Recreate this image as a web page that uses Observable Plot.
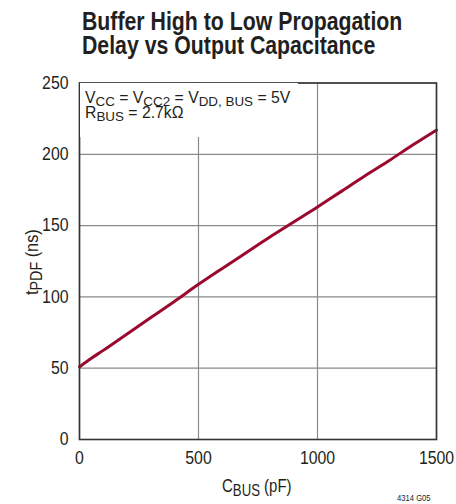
<!DOCTYPE html>
<html><head><meta charset="utf-8">
<script src="https://cdn.jsdelivr.net/npm/d3@7"></script>
<script src="https://cdn.jsdelivr.net/npm/@observablehq/plot@0.6"></script>
<style>
body{margin:0;background:#fff;}
#wrap{position:relative;width:456px;height:504px;overflow:hidden;background:#fff;
  font-family:"Liberation Sans",Arial,sans-serif;color:#231f20;}
#chart{position:absolute;left:0;top:0;}
.abs{position:absolute;white-space:nowrap;}
.fit{display:inline-block;transform-origin:0 0;white-space:nowrap;}
.title{left:82px;font-size:25px;font-weight:bold;line-height:20px;}
#note{left:80px;top:83px;width:218px;height:54px;background:#fff;}
#note .ln{position:absolute;left:5px;font-size:16px;line-height:14px;}
.sub{font-size:0.85em;position:relative;top:3px;}
.subx{font-size:0.88em;position:relative;top:4px;}
#xlab{left:222px;top:475.5px;font-size:18px;line-height:20px;}
#ylabo{left:0;top:0;transform:translate(42px,262px) rotate(-90deg);transform-origin:0 0;}
#ylab{position:absolute;left:-33px;top:-20px;font-size:18px;line-height:20px;white-space:nowrap;}
#code{left:397px;top:493px;font-size:9px;line-height:10px;}
</style></head>
<body>
<div id="wrap">
  <div id="chart"></div>
  <div id="note" class="abs">
    <div class="ln" style="top:7.5px"><span class="fit" data-w="205">V<span class="sub">CC</span> = V<span class="sub">CC2</span> = V<span class="sub">DD, BUS</span> = 5V</span></div>
    <div class="ln" style="top:23px"><span class="fit" data-s="n">R<span class="sub">BUS</span> = 2.7kΩ</span></div>
  </div>
  <div class="abs title" style="top:11.3px"><span class="fit" data-w="320">Buffer High to Low Propagation</span></div>
  <div class="abs title" style="top:35.3px"><span class="fit" data-s="t">Delay vs Output Capacitance</span></div>
  <div id="xlab" class="abs"><span class="fit" data-w="70">C<span class="subx">BUS</span> (pF)</span></div>
  <div id="ylabo" class="abs"><div id="ylab"><span class="fit" data-w="66">t<span class="subx">PDF</span> (ns)</span></div></div>
  <div id="code" class="abs"><span class="fit" data-w="34">4314 G05</span></div>
</div>
<script>
const cbus = [0, 50, 100, 200, 300, 400, 500, 600, 700, 800, 900, 1000, 1100, 1200, 1300, 1400, 1500];
const tpdf = [51, 57, 62.5, 74, 85.5, 97, 108.8, 120, 131, 142, 152.5, 163, 174, 185, 195.5, 206.5, 217];
const xTicks = [0, 500, 1000, 1500];
const yTicks = [0, 50, 100, 150, 200, 250];

const data = cbus.map((c, i) => ({c, t: tpdf[i]}));
const font = '"Liberation Sans",Arial,sans-serif';

const plot = Plot.plot({
  width: 456, height: 504,
  marginTop: 82.5, marginBottom: 65, marginLeft: 79, marginRight: 20,
  style: {fontFamily: font, fontSize: "18px", color: "#231f20", background: "transparent"},
  x: {domain: [0, 1500]},
  y: {domain: [0, 250]},
  marks: [
    Plot.gridX(xTicks, {stroke: "#8a8a8a", strokeOpacity: 1, strokeWidth: 1.2}),
    Plot.gridY(yTicks, {stroke: "#8a8a8a", strokeOpacity: 1, strokeWidth: 1.2}),
    Plot.axisX(xTicks, {tickSize: 0, tickPadding: 12, label: null, tickFormat: d => String(d)}),
    Plot.axisY(yTicks, {tickSize: 0, tickPadding: 11, label: null, tickFormat: d => String(d)}),
    Plot.line(data, {x: "c", y: "t", stroke: "#9b0a2e", strokeWidth: 3, curve: "monotone-x"}),
    Plot.frame({stroke: "#333", strokeWidth: 1.6})
  ]
});
document.getElementById("chart").appendChild(plot);

// condense tick labels horizontally (Helvetica Condensed look)
d3.select(plot).selectAll("g[aria-label='x-axis tick label'] text, g[aria-label='y-axis tick label'] text")
  .each(function() {
    const t = this.getAttribute("transform") || "";
    this.setAttribute("transform", t + " scale(0.88,1)");
  });

// fit HTML texts to measured reference widths with a horizontal condense (offsetWidth ignores transforms)
let titleScale = 1, noteScale = 1;
document.querySelectorAll(".fit").forEach(el => {
  const w = +el.dataset.w;
  if (!w) return;
  const s = w / el.offsetWidth;
  el.style.transform = `scaleX(${s})`;
  if (el.closest(".title")) titleScale = s;
  if (el.closest("#note")) noteScale = s;
});
document.querySelectorAll(".fit[data-s='t']").forEach(el => el.style.transform = `scaleX(${titleScale})`);
document.querySelectorAll(".fit[data-s='n']").forEach(el => el.style.transform = `scaleX(${noteScale})`);
</script>
</body></html>
